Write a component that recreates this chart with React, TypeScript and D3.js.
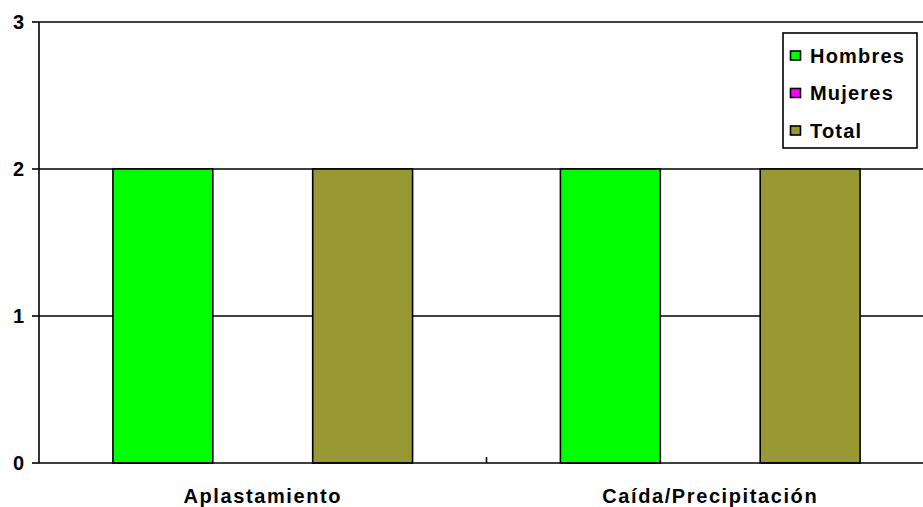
import React from "react";
import * as d3 from "d3";

const categories = ["Aplastamiento", "Caída/Precipitación"];
const seriesNames = ["Hombres", "Mujeres", "Total"];
const hombres = [2, 2];
const mujeres = [0, 0];
const total = [2, 2];
const seriesColors = ["#00FF00", "#FF00FF", "#999933"];
const yTicks = [0, 1, 2, 3];

const W = 923;
const H = 507;
const FONT = "'Liberation Sans', Arial, sans-serif";

export default function App() {
  React.useEffect(() => {
    document.body.style.margin = "0";
  }, []);
  const left = 39;
  const right = 934;
  const top = 22;
  const bottom = 463;
  const x = d3.scaleBand<string>().domain(categories).range([left, right]).padding(0);
  const xs = d3
    .scaleBand<string>()
    .domain(seriesNames)
    .range([0, x.bandwidth()])
    .paddingInner(0)
    .paddingOuter(0.74);
  const y = d3.scaleLinear().domain([0, 3]).range([bottom, top]);
  const values = [hombres, mujeres, total];

  return (
    <svg width={W} height={H} style={{ display: "block", background: "#fff" }} fontFamily={FONT}>
      <rect x={0} y={0} width={W} height={H} fill="#fff" />
      {yTicks.filter((t) => t > 0).map((t) => (
        <line key={t} x1={left} x2={W} y1={y(t)} y2={y(t)} stroke="#000" strokeWidth={1.6} />
      ))}
      {seriesNames.map((s, si) =>
        categories.map((c, ci) => {
          const v = values[si][ci];
          if (v <= 0) return null;
          const bx = (x(c) as number) + (xs(s) as number);
          return (
            <rect
              key={s + c}
              x={bx}
              y={y(v)}
              width={xs.bandwidth()}
              height={y(0) - y(v)}
              fill={seriesColors[si]}
              stroke="#000"
              strokeWidth={1.6}
            />
          );
        })
      )}
      <line x1={left} x2={left} y1={top} y2={bottom} stroke="#000" strokeWidth={1.6} />
      <line x1={left} x2={W} y1={bottom} y2={bottom} stroke="#000" strokeWidth={1.6} />
      {yTicks.map((t) => (
        <g key={t}>
          <line x1={left - 7} x2={left} y1={y(t)} y2={y(t)} stroke="#000" strokeWidth={1.6} />
          <text x={24} y={y(t) + 7} textAnchor="end" fontSize={20} fontWeight="bold">
            {t}
          </text>
        </g>
      ))}
      {categories.slice(1).map((c) => (
        <line key={c} x1={x(c) as number} x2={x(c) as number} y1={bottom - 6} y2={bottom} stroke="#000" strokeWidth={1.6} />
      ))}
      {categories.map((c) => (
        <text
          key={c}
          x={(x(c) as number) + x.bandwidth() / 2}
          y={503}
          textAnchor="middle"
          fontSize={20}
          fontWeight="bold"
          letterSpacing={1.6}
        >
          {c}
        </text>
      ))}
      <rect x={783} y={33} width={134} height={115} fill="#fff" stroke="#000" strokeWidth={1.6} />
      {seriesNames.map((s, i) => (
        <g key={s}>
          <rect x={790.5} y={51 + i * 37.5} width={10} height={9} fill={seriesColors[i]} stroke="#000" strokeWidth={1.6} />
          <text x={810} y={62.5 + i * 37.5} fontSize={20} fontWeight="bold" letterSpacing={1.2}>
            {s}
          </text>
        </g>
      ))}
    </svg>
  );
}
